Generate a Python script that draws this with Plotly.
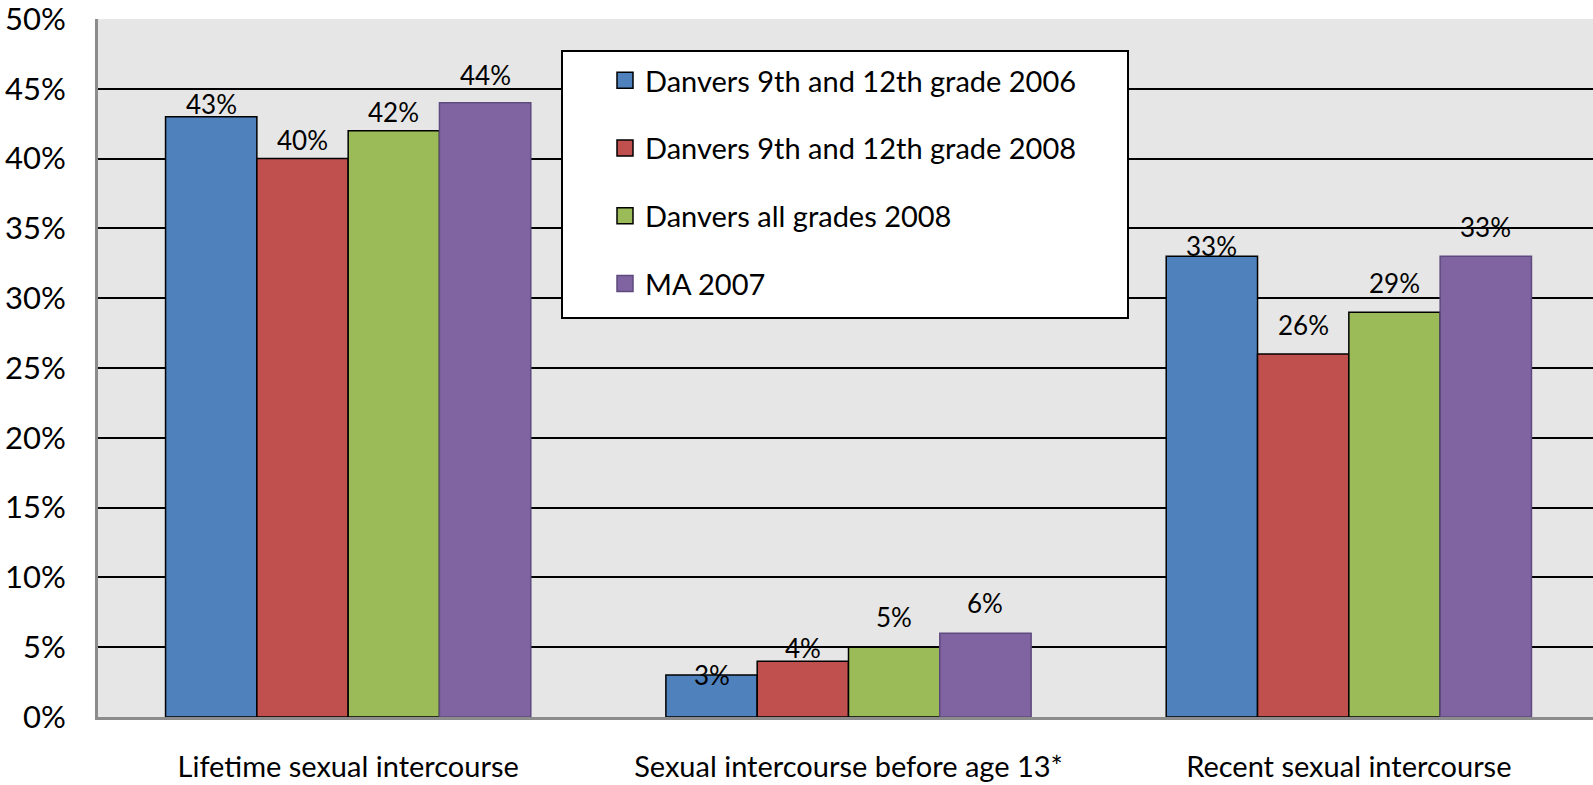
import plotly.graph_objects as go

categories = ["Lifetime sexual intercourse", "Sexual intercourse before age 13*", "Recent sexual intercourse"]
series_names = ["Danvers 9th and 12th grade 2006", "Danvers 9th and 12th grade 2008",
                "Danvers all grades 2008", "MA 2007"]
danvers_9_12_2006 = [0.43, 0.03, 0.33]
danvers_9_12_2008 = [0.40, 0.04, 0.26]
danvers_all_2008 = [0.42, 0.05, 0.29]
ma_2007 = [0.44, 0.06, 0.33]
series_values = [danvers_9_12_2006, danvers_9_12_2008, danvers_all_2008, ma_2007]
tick_vals = [0, 0.05, 0.10, 0.15, 0.20, 0.25, 0.30, 0.35, 0.40, 0.45, 0.50]

colors = ["#4F81BD", "#C0504D", "#9BBB59", "#8064A2"]
outlines = ["#000000", "#000000", "#000000", "#5E4A7E"]
# label vertical raise (px) above bar top, per series per category (style)
label_raise = [[13, 0, 10], [19, 13, 29], [19, 30, 29], [28, 30, 29]]

FONT = "Lato, 'Open Sans', sans-serif"
bargap = 0.27

fig = go.Figure()
for j, (name, vals) in enumerate(zip(series_names, series_values)):
    fig.add_trace(go.Bar(
        x=categories, y=vals, name=name, showlegend=False,
        marker=dict(color=colors[j], line=dict(color=outlines[j], width=1.5)),
        hoverinfo="skip",
    ))
# legend swatches
for j, name in enumerate(series_names):
    fig.add_trace(go.Scatter(
        x=[None], y=[None], mode="markers", name=name, legendgroup=name,
        marker=dict(symbol="square", size=16, color=colors[j],
                    line=dict(color=outlines[j], width=1.5)),
        hoverinfo="skip",
    ))

annotations = []
w = (1 - bargap) / len(series_values)
for j, vals in enumerate(series_values):
    for ci, v in enumerate(vals):
        annotations.append(dict(
            x=ci + (j - (len(series_values) - 1) / 2) * w, y=v, xref="x", yref="y",
            text=f"{round(v*100)}%", showarrow=False, yanchor="middle",
            yshift=label_raise[j][ci], font=dict(size=26, color="#000000", family=FONT),
        ))

fig.update_layout(
    width=1593, height=785,
    margin=dict(l=98, r=0, t=19, b=68, autoexpand=False),
    paper_bgcolor="white", plot_bgcolor="#E6E6E6",
    barmode="group", bargap=bargap, bargroupgap=0,
    font=dict(family=FONT, size=22, color="#000000"),
    showlegend=True,
    legend=dict(
        x=(605 - 98) / 1495, y=(717 - 55) / 698, xanchor="left", yanchor="top",
        bgcolor="rgba(0,0,0,0)", borderwidth=0,
        font=dict(size=29, family=FONT, color="#000000"),
        tracegroupgap=27, itemsizing="trace",
    ),
    annotations=annotations,
    shapes=[dict(type="rect", xref="paper", yref="paper",
                 x0=(562 - 98) / 1495, x1=(1128 - 98) / 1495,
                 y0=(717 - 318) / 698, y1=(717 - 51) / 698,
                 fillcolor="white", line=dict(color="black", width=2), layer="above")],
)
fig.update_yaxes(
    range=[0, 0.5], tickvals=tick_vals, tickformat=".0%",
    showgrid=True, gridcolor="#000000", gridwidth=1.5,
    showline=True, linecolor="#8C8C8C", linewidth=3,
    ticks="", zeroline=False, automargin=False, ticklabelstandoff=23,
    ticklabeloverflow="allow",
    tickfont=dict(size=31, family=FONT), fixedrange=True,
)
fig.update_xaxes(
    range=[-0.5, 2.488],
    showline=True, linecolor="#8C8C8C", linewidth=3, ticks="",
    automargin=False, ticklabelstandoff=22, ticklabeloverflow="allow",
    tickfont=dict(size=29, family=FONT), fixedrange=True,
)
fig.write_html(
    "out.html",
    config={"displayModeBar": False},
    post_script="document.body.style.margin='0';document.body.style.overflow='hidden';",
)
